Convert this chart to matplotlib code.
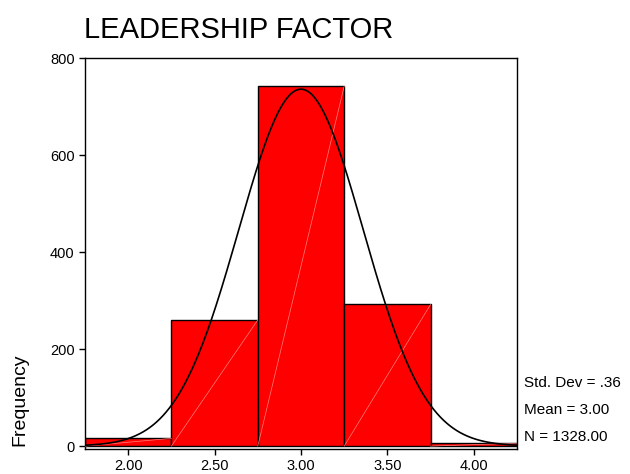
import numpy as np
import matplotlib.pyplot as plt

plt.rcParams['font.family'] = ['Liberation Sans', 'DejaVu Sans']

# histogram bins and counts
bin_edges = [1.75, 2.25, 2.75, 3.25, 3.75, 4.25]
counts = [16, 260, 742, 292, 6]
xticks = [2.0, 2.5, 3.0, 3.5, 4.0]
xtick_labels = ["2.00", "2.50", "3.00", "3.50", "4.00"]
yticks = [0, 200, 400, 600, 800]

# summary stats
std_dev = 0.36
mean = 3.00
n = 1328

fig = plt.figure(figsize=(6.3, 4.74), dpi=100)
ax = fig.add_axes([0.1349, 0.0527, 0.6857, 0.8249])

lefts = np.array(bin_edges[:-1])
widths = np.diff(bin_edges)
ax.bar(lefts, counts, width=widths, align='edge', color='#ff0000',
       edgecolor='black', linewidth=1.0, zorder=2)

# faint diagonal stroke across each bar
for l, w, c in zip(lefts, widths, counts):
    ax.plot([l, l + w], [0, c], color='#ff8080', linewidth=0.5, zorder=3)

# normal curve scaled to the histogram
xs = np.linspace(1.75, 4.25, 400)
binw = widths[0]
ys = n * binw / (std_dev * np.sqrt(2 * np.pi)) * np.exp(-0.5 * ((xs - mean) / std_dev) ** 2)
ax.plot(xs, ys, color='black', linewidth=1.2, zorder=4)

ax.set_xlim(1.75, 4.25)
ax.set_ylim(-6, 800)
ax.set_xticks(xticks)
ax.set_xticklabels(xtick_labels)
ax.set_yticks(yticks)
ax.tick_params(labelsize=10.5, length=4, width=1, direction='out')
for s in ax.spines.values():
    s.set_linewidth(1.0)

fig.text(84 / 630, 1 - 30 / 474, "LEADERSHIP FACTOR", fontsize=21,
         ha='left', va='center')
fig.text(20 / 630, 1 - 400 / 474, "Frequency", fontsize=14,
         rotation=90, ha='center', va='center')

stats = ["Std. Dev = .36", "Mean = 3.00", "N = 1328.00"]
for i, s in enumerate(stats):
    fig.text(524 / 630, 1 - (383 + 27 * i) / 474, s, fontsize=11,
             ha='left', va='center')

fig.savefig("out.png", dpi=100)
